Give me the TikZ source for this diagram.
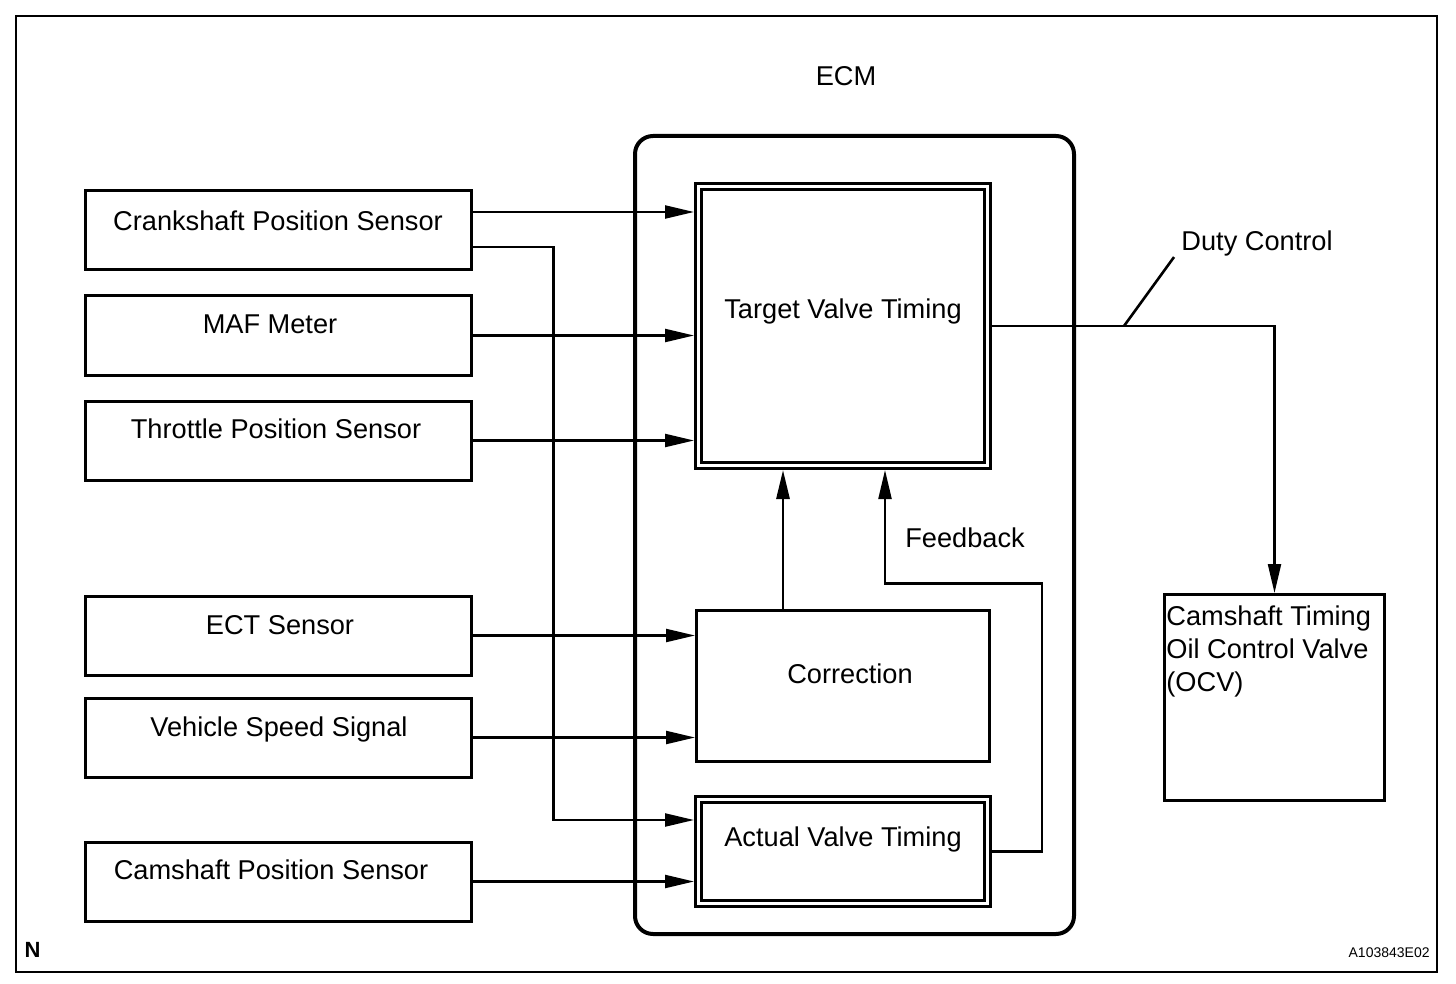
\documentclass[tikz,border=0pt]{standalone}
\usepackage{fontspec}
\setmainfont{Liberation Sans}
\usetikzlibrary{arrows.meta}
\begin{document}
\begin{tikzpicture}[x=0.5pt,y=-0.5pt,
  lbl/.style={font=\fontsize{13.6}{16.5}\selectfont, inner sep=0, anchor=base},
  sbox/.style={draw, line width=1.5pt, inner sep=0},
  lbox/.style={sbox, minimum width=193pt, minimum height=39.5pt},
  dbox/.style={draw, line width=1.5pt, double, double distance=1.5pt, inner sep=0, outer sep=2.25pt},
  conn/.style={line width=1.1pt},
  arr/.style={conn, -{Triangle[length=14.5pt,width=6.5pt]}},
  uarr/.style={arr, line width=1.4pt},
]
\useasboundingbox (0,0) rectangle (1456,984);
\draw[line width=1.2pt] (16,16) rectangle (1437,972);

% left boxes
\node[lbox] (crank) at (278,230) {};
\node[lbox, minimum height=40pt] (maf) at (278,335.5) {};
\node[lbox] (thr) at (278,440.5) {};
\node[lbox] (ect) at (278,635.5) {};
\node[lbox] (veh) at (278,737.5) {};
\node[lbox] (cam) at (278,881.5) {};
\node[lbl] at (278,231) {Crankshaft Position Sensor};
\node[lbl] at (270,334) {MAF Meter};
\node[lbl] at (276,438) {Throttle Position Sensor};
\node[lbl] at (280,634) {ECT Sensor};
\node[lbl] at (279,736) {Vehicle Speed Signal};
\node[lbl] at (271,879) {Camshaft Position Sensor};

% ECM
\node[draw, line width=2pt, rounded corners=9pt, inner sep=0, minimum width=219.5pt, minimum height=399pt] (ecm) at (854.5,535) {};
\node[lbl] at (846,86) {ECM};

\node[dbox, minimum width=144.5pt, minimum height=139.5pt] (tvt) at (843,326) {};
\node[sbox, minimum width=146.5pt, minimum height=75.5pt] (cor) at (843,686) {};
\node[dbox, minimum width=144.5pt, minimum height=52pt] (avt) at (843,851.5) {};
\node[lbl] at (843,318) {Target Valve Timing};
\node[lbl] at (850,683) {Correction};
\node[lbl] at (843,846) {Actual Valve Timing};

% OCV
\node[sbox, minimum width=110pt, minimum height=103pt] (ocv) at (1274.5,697.5) {};
\node[lbl, anchor=north west, align=left] at (1166,605) {Camshaft Timing\\Oil Control Valve\\(OCV)};

% connectors
\draw[arr] ([yshift=9pt]crank.east) coordinate (c1) -- (c1 -| tvt.west);
\draw[arr] ([yshift=-8.5pt]crank.east) -- ++(81,0) |- ([yshift=15.75pt]avt.west);
\draw[arr] (maf.east) -- (maf.east -| tvt.west);
\draw[arr] (thr.east) -- (thr.east -| tvt.west);
\draw[arr] (ect.east) -- (ect.east -| cor.west);
\draw[arr] (veh.east) -- (veh.east -| cor.west);
\draw[arr] (cam.east) -- (cam.east -| avt.west);
\draw[uarr] ([xshift=-30pt]cor.north) coordinate (c2) -- (c2 |- tvt.south);
\draw[arr] (avt.east) -- ++(50,0) -- ++(0,-268) -| ([xshift=21pt]tvt.south);
\node[lbl] at (965,547) {Feedback};

\draw[arr] (tvt.east) -| (ocv.north);
\node[lbl] (duty) at (1257,251) {Duty Control};
\coordinate (dc) at (1124,326);
\draw[line width=1.3pt] (dc) -- ([xshift=-3.5pt]duty.south west);

\node[font=\bfseries\fontsize{11}{13}\selectfont, inner sep=0, anchor=base] at (32.5,957) {N};
\node[font=\fontsize{7}{8}\selectfont, inner sep=0, anchor=base east] at (1430,957) {A103843E02};
\end{tikzpicture}
\end{document}
